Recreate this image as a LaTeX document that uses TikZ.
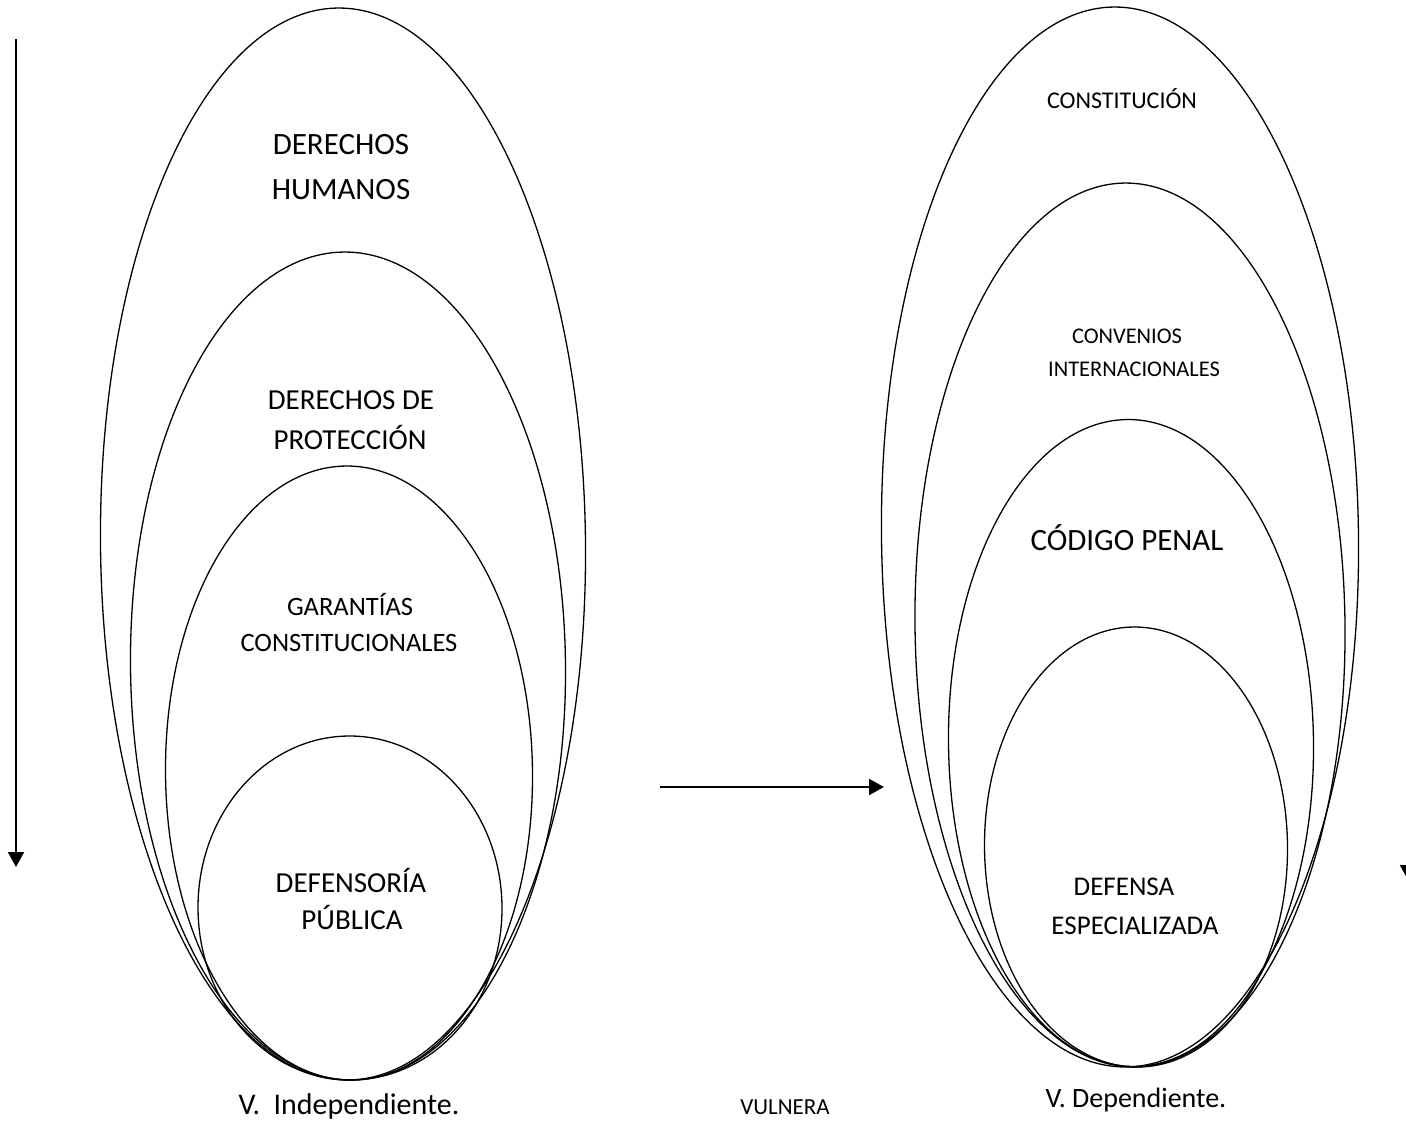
\documentclass[tikz,border=0pt]{standalone}
\usepackage{fontspec}
\setmainfont{Carlito}
\usetikzlibrary{shapes.geometric,arrows.meta}
\begin{document}
\begin{tikzpicture}[x=1pt,y=-1pt,
  ring/.style={draw, ellipse, line width=1.3pt, inner sep=0pt, outer sep=0pt},
  line/.style={anchor=base, inner sep=0pt},
  arr/.style={line width=2pt, -{Triangle[length=15pt,width=16pt]}}]
\useasboundingbox (0,0) rectangle (1406,1126);

% left group of nested ellipses
\node[ring, minimum width=485pt, minimum height=1072pt, rotate=0.55] (dh) at (343,544) {};
\node[ring, minimum width=435pt, minimum height=828pt, rotate=0.6] (dp) at (348,666) {};
\node[ring, minimum width=367pt, minimum height=614pt, rotate=0.6] (gc) at (349,773) {};
\node[ring, minimum width=304pt, minimum height=344pt, rotate=0.6] (df) at (350,908) {};

% right group of nested ellipses
\node[ring, minimum width=477pt, minimum height=1060pt, rotate=0.7] (co) at (1120,537) {};
\node[ring, minimum width=430pt, minimum height=884pt, rotate=0.7] (ci) at (1130,625) {};
\node[ring, minimum width=365pt, minimum height=647pt, rotate=0.7] (cp) at (1131,743) {};
\node[ring, minimum width=303pt, minimum height=440pt, rotate=0.7] (de) at (1136,847) {};

% small break in the outer right ring
\draw[white, line width=2.2pt] (1005.5,74.5) -- (1010,70);

% labels, left
\node[line, font=\fontsize{31}{37}\selectfont] (dh1) at (341,155) {DERECHOS};
\node[line, font=\fontsize{31}{37}\selectfont] (dh2) at (341,200) {HUMANOS};
\node[line, font=\fontsize{29}{35}\selectfont] (dp1) at (351,409) {DERECHOS DE};
\node[line, font=\fontsize{29}{35}\selectfont] (dp2) at (350,449) {PROTECCIÓN};
\node[line, font=\fontsize{26.5}{32}\selectfont] (gc1) at (350,615) {GARANTÍAS};
\node[line, font=\fontsize{26.5}{32}\selectfont] (gc2) at (349,651) {CONSTITUCIONALES};
\node[line, font=\fontsize{29}{35}\selectfont] (df1) at (351,892) {DEFENSORÍA};
\node[line, font=\fontsize{29}{35}\selectfont] (df2) at (352,929) {PÚBLICA};

% labels, right
\node[line, font=\fontsize{24}{29}\selectfont] (co1) at (1122,109) {CONSTITUCIÓN};
\node[line, font=\fontsize{22.4}{27}\selectfont] (ci1) at (1127,343) {CONVENIOS};
\node[line, font=\fontsize{22.4}{27}\selectfont] (ci2) at (1134,376) {INTERNACIONALES};
\node[line, font=\fontsize{31}{37}\selectfont] (cp1) at (1127,550) {CÓDIGO PENAL};
\node[line, font=\fontsize{27}{33}\selectfont] (de1) at (1124,895) {DEFENSA};
\node[line, font=\fontsize{27}{33}\selectfont] (de2) at (1135,934) {ESPECIALIZADA};

% captions
\node[line, font=\fontsize{30}{36}\selectfont] (vi) at (349,1114) {V.\ \ Independiente.};
\node[line, font=\fontsize{23}{28}\selectfont] (vu) at (785,1114) {VULNERA};
\node[line, font=\fontsize{28}{34}\selectfont] (vd) at (1136,1107) {V. Dependiente.};

% arrows
\coordinate (a1) at (16,39);
\coordinate (a2) at (16,867);
\draw[arr] (a1) -- (a2);
\coordinate (h1) at (660,787);
\coordinate (h2) at (884,787);
\draw[arr] (h1) -- (h2);
\coordinate (r1) at (1408,860);
\coordinate (r2) at (1408,880);
\draw[arr] (r1) -- (r2);
\end{tikzpicture}
\end{document}
